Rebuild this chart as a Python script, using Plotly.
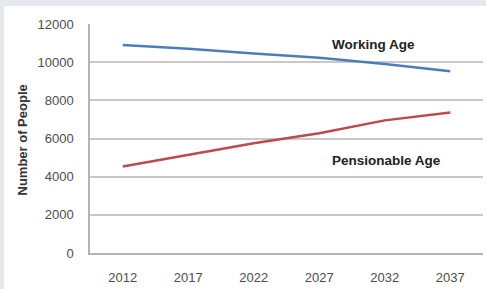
import plotly.graph_objects as go

years = ["2012", "2017", "2022", "2027", "2032", "2037"]
working_age = [10900, 10700, 10450, 10230, 9900, 9520]
pensionable_age = [4530, 5140, 5750, 6280, 6950, 7360]
y_ticks = [0, 2000, 4000, 6000, 8000, 10000, 12000]

W, H = 486, 289
L, R, T, B = 90, 3, 24, 36
pw, ph = W - L - R, H - T - B

def px_x(p):
    return (p - L) / pw

def px_y(p):
    return (H - B - p) / ph

fig = go.Figure()
fig.add_trace(go.Scatter(x=years, y=working_age, mode="lines", name="Working Age",
                         line=dict(color="#4a7ebb", width=2.5)))
fig.add_trace(go.Scatter(x=years, y=pensionable_age, mode="lines", name="Pensionable Age",
                         line=dict(color="#be4b48", width=2.5)))

font_fam = "Liberation Sans, Arial, sans-serif"

fig.update_layout(
    width=W, height=H,
    margin=dict(l=L, r=R, t=T, b=B, autoexpand=False),
    paper_bgcolor="white", plot_bgcolor="white",
    showlegend=False,
    font=dict(family=font_fam, size=12, color="#4d4d4d"),
    xaxis=dict(type="category", range=[-0.5, 5.5], showgrid=False,
               showline=True, linecolor="#b3b3b3", linewidth=1.5,
               ticks="", ticklabelstandoff=12,
               tickfont=dict(size=13, color="#4d4d4d")),
    yaxis=dict(range=[0, 12000], tickvals=y_ticks, ticktext=[str(v) for v in y_ticks],
               showgrid=True, gridcolor="#c9c9c9", gridwidth=2,
               showline=True, linecolor="#b3b3b3", linewidth=1.5,
               zeroline=False, ticks="", ticklabelstandoff=12,
               tickfont=dict(size=13, color="#4d4d4d")),
    shapes=[
        dict(type="rect", xref="paper", yref="paper", x0=px_x(-5), x1=px_x(4),
             y0=px_y(H + 5), y1=px_y(-5), fillcolor="#e5e8ed", line=dict(width=0), layer="below"),
        dict(type="rect", xref="paper", yref="paper", x0=px_x(-5), x1=px_x(W + 5),
             y0=px_y(6), y1=px_y(-5), fillcolor="#e5e8ed", line=dict(width=0), layer="below"),
    ],
    annotations=[
        dict(text="<b>Working Age</b>", xref="paper", yref="paper",
             x=px_x(373), y=px_y(44), xanchor="center", yanchor="middle", showarrow=False,
             font=dict(size=13.5, color="#222222", family=font_fam)),
        dict(text="<b>Pensionable Age</b>", xref="paper", yref="paper",
             x=px_x(386), y=px_y(160), xanchor="center", yanchor="middle", showarrow=False,
             font=dict(size=13.5, color="#222222", family=font_fam)),
        dict(text="<b>Number of People</b>", xref="paper", yref="paper",
             x=px_x(21.5), y=px_y(140), xanchor="center", yanchor="middle",
             showarrow=False, textangle=-90,
             font=dict(size=13, color="#333333", family=font_fam)),
    ],
)

fig.write_html("out.html", config={"displayModeBar": False},
               post_script="document.body.style.margin='0';")
